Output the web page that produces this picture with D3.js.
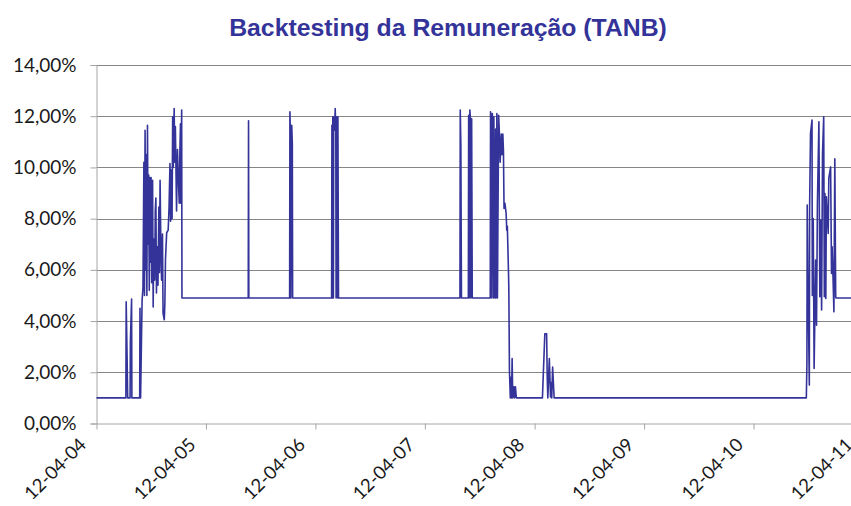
<!DOCTYPE html>
<html>
<head>
<meta charset="utf-8">
<script src="https://cdn.jsdelivr.net/npm/d3@7"></script>
<style>
  html, body { margin: 0; padding: 0; background: #fff; }
  svg { display: block; }
</style>
</head>
<body>
<svg id="chart" width="851" height="506"></svg>
<script>
const chartTitle = "Backtesting da Remuneração (TANB)";
const yTicks = [0, 2, 4, 6, 8, 10, 12, 14];
const xTickDates = ["2004-04-12","2005-04-12","2006-04-12","2007-04-12","2008-04-12","2009-04-12","2010-04-12","2011-04-12"];

const dates = [
  "2004-04-12","2004-07-19","2004-07-20","2004-07-23","2004-07-25","2004-08-02","2004-08-03","2004-08-07","2004-08-08",
  "2004-09-03","2004-09-04","2004-09-06","2004-09-11","2004-09-14","2004-09-17","2004-09-19","2004-09-21","2004-09-23",
  "2004-09-24","2004-09-27","2004-09-29","2004-10-01","2004-10-03","2004-10-05","2004-10-07","2004-10-09","2004-10-11",
  "2004-10-13","2004-10-16","2004-10-18","2004-10-20","2004-10-23","2004-10-25","2004-10-27","2004-10-29","2004-10-31",
  "2004-11-03","2004-11-06","2004-11-08","2004-11-10","2004-11-13","2004-11-15","2004-11-18","2004-11-20","2004-11-24",
  "2004-11-26","2004-11-28","2004-12-02","2004-12-07","2004-12-10","2004-12-13","2004-12-15","2004-12-18","2004-12-20",
  "2004-12-22","2004-12-24","2004-12-27","2004-12-29","2004-12-31","2005-01-04","2005-01-07","2005-01-09","2005-01-13",
  "2005-01-15","2005-01-17","2005-01-18","2005-01-21","2005-01-22",
  "2005-08-31","2005-09-01","2005-09-02",
  "2006-01-16","2006-01-17","2006-01-19","2006-01-20","2006-01-23","2006-01-25","2006-01-26",
  "2006-06-05","2006-06-06","2006-06-07","2006-06-09","2006-06-11","2006-06-12","2006-06-15","2006-06-17","2006-06-19",
  "2006-06-20","2006-06-22","2006-06-25","2006-06-26","2006-06-28",
  "2007-08-07","2007-08-08","2007-08-10","2007-08-12",
  "2007-09-04","2007-09-05","2007-09-07","2007-09-09","2007-09-11","2007-09-12","2007-09-15","2007-09-17",
  "2007-11-16","2007-11-17","2007-11-19","2007-11-21","2007-11-23","2007-11-25","2007-11-27","2007-11-28",
  "2007-12-02","2007-12-04","2007-12-05","2007-12-08","2007-12-10","2007-12-14","2007-12-17","2007-12-19",
  "2007-12-23","2007-12-25","2007-12-28","2007-12-30","2008-01-01","2008-01-04","2008-01-08","2008-01-10",
  "2008-01-12","2008-01-16","2008-01-17","2008-01-18","2008-01-19","2008-01-22","2008-01-24","2008-01-26",
  "2008-01-28","2008-01-30","2008-02-03","2008-02-05","2008-02-08","2008-02-11",
  "2008-05-08","2008-05-16","2008-05-22","2008-05-24","2008-05-26","2008-05-31","2008-06-04","2008-06-07",
  "2008-06-08","2008-06-11","2008-06-16",
  "2010-10-05","2010-10-07","2010-10-08","2010-10-10","2010-10-15","2010-10-16","2010-10-19","2010-10-24",
  "2010-10-25","2010-10-28","2010-10-31","2010-11-05","2010-11-08","2010-11-11","2010-11-16","2010-11-19",
  "2010-11-22","2010-11-25","2010-11-28","2010-12-02","2010-12-04","2010-12-06","2010-12-09","2010-12-11",
  "2010-12-17","2010-12-19","2010-12-25","2010-12-28","2010-12-30","2011-01-02","2011-01-05","2011-01-08",
  "2011-01-11","2011-01-12","2011-03-31"
];

const rates = [
  1.0, 1.0, 4.75, 2.6, 1.0, 1.0, 3.2, 4.86, 1.0,
  1.0, 4.5, 1.0, 4.8, 5.3, 10.2, 5.0, 11.45, 6.0,
  10.5, 5.0, 11.65, 7.0, 9.7, 5.2, 9.6, 6.3, 9.6,
  5.5, 9.5, 4.55, 7.2, 5.6, 8.3, 8.8, 5.1, 6.9,
  5.4, 8.45, 5.9, 9.5, 6.6, 5.6, 7.4, 4.3, 4.05,
  4.7, 6.4, 7.45, 7.55, 8.45, 10.15, 7.9, 9.9, 8.0,
  11.98, 10.0, 12.3, 10.2, 11.6, 8.3, 10.7, 9.9, 8.6,
  10.6, 11.7, 8.6, 12.24, 4.9,
  4.9, 11.82, 4.9,
  4.9, 12.17, 11.07, 4.9, 11.65, 10.9, 4.9,
  4.9, 11.65, 4.9, 11.98, 4.9, 11.98, 11.45, 12.3, 11.45,
  4.9, 11.98, 4.9, 11.98, 4.9,
  4.9, 12.24, 10.87, 4.9,
  4.9, 12.04, 4.9, 12.24, 11.9, 4.9, 11.9, 4.9,
  4.9, 12.17, 11.9, 4.9, 12.1, 10.75, 4.9, 11.98,
  4.9, 11.5, 4.9, 12.1, 4.9, 12.04, 11.2, 10.2,
  11.3, 10.5, 11.3, 10.67, 8.4, 8.6, 8.2, 7.55,
  7.7, 5.86, 5.2, 3.65, 2.08, 1.0, 1.8, 1.0,
  2.54, 1.0, 1.43, 1.0, 1.43, 1.0,
  1.0, 3.5, 3.5, 1.8, 1.0, 2.54, 1.04, 1.6,
  1.0, 2.2, 1.0,
  1.0, 2.35, 8.53, 6.0, 1.5, 8.46, 11.33, 11.85,
  5.0, 8.0, 2.15, 6.38, 3.84, 8.6, 11.78, 4.95,
  7.94, 4.43, 10.55, 11.98, 4.95, 8.98, 4.88, 8.85,
  7.42, 9.57, 10.02, 5.86, 6.9, 5.73, 4.36, 10.34,
  4.95, 4.9, 4.9
];

const parse = d3.utcParse("%Y-%m-%d");
const series = dates.map((d, i) => ({ date: parse(d), v: rates[i] }));

const W = 851, H = 506;
const margin = { left: 96.5, right: -12, top: 65, bottom: 82.5 };
const svg = d3.select("#chart");

const x = d3.scaleUtc()
  .domain([parse(xTickDates[0]), parse(xTickDates[xTickDates.length - 1])])
  .range([margin.left, W - margin.right]);
const y = d3.scaleLinear()
  .domain([0, 14])
  .range([H - margin.bottom, margin.top]);

const fmtPct = d => d.toFixed(2).replace(".", ",") + "%";
const fmtDate = d3.utcFormat("%d-%m-%y");

// gridlines
svg.append("g")
  .selectAll("line")
  .data(yTicks.filter(t => t > 0))
  .join("line")
  .attr("x1", margin.left).attr("x2", W - margin.right)
  .attr("y1", d => Math.round(y(d)) + 0.5).attr("y2", d => Math.round(y(d)) + 0.5)
  .attr("stroke", "#868686").attr("stroke-width", 1);

// y axis
const yAxis = svg.append("g")
  .attr("transform", `translate(${margin.left},0)`)
  .call(d3.axisLeft(y).tickValues(yTicks).tickFormat(fmtPct).tickSize(6).tickPadding(14));
yAxis.select(".domain").attr("stroke", "#a6a6a6");
yAxis.selectAll(".tick line").attr("stroke", "#a6a6a6");
yAxis.selectAll(".tick text")
  .attr("font-family", "Lato, 'Open Sans', sans-serif")
  .attr("font-size", 19).attr("fill", "#1a1a1a");

// x axis
const xAxis = svg.append("g")
  .attr("transform", `translate(0,${H - margin.bottom})`)
  .call(d3.axisBottom(x).tickValues(xTickDates.map(parse)).tickFormat(fmtDate).tickSize(6).tickSizeOuter(0));
xAxis.select(".domain").attr("stroke", "#a6a6a6");
xAxis.selectAll(".tick line").attr("stroke", "#a6a6a6");
xAxis.selectAll(".tick text")
  .attr("font-family", "Lato, 'Open Sans', sans-serif")
  .attr("font-size", 18.5).attr("fill", "#1a1a1a")
  .attr("text-anchor", "end")
  .attr("dy", 0)
  .attr("transform", "translate(-16,16) rotate(-45)");

// line
const line = d3.line().x(d => x(d.date)).y(d => y(d.v));
svg.append("path")
  .datum(series)
  .attr("fill", "none")
  .attr("stroke", "#333399")
  .attr("stroke-width", 1.6)
  .attr("stroke-linejoin", "round")
  .attr("d", line);

// title
svg.append("text")
  .attr("x", 448).attr("y", 36)
  .attr("text-anchor", "middle")
  .attr("font-family", "'Liberation Sans', Arial, sans-serif")
  .attr("font-weight", "bold")
  .attr("font-size", 24.8)
  .attr("fill", "#333399")
  .text(chartTitle);
</script>
</body>
</html>
